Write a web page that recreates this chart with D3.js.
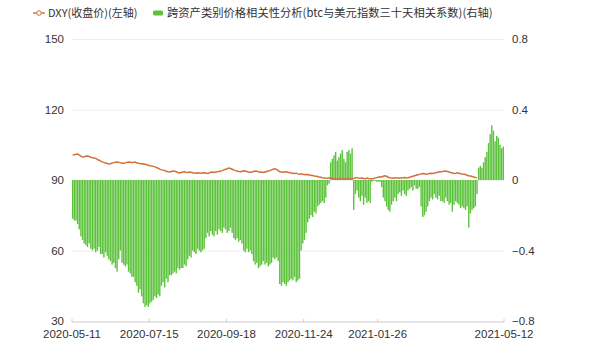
<!DOCTYPE html>
<html><head><meta charset="utf-8">
<script src="https://cdn.jsdelivr.net/npm/d3@7"></script>
<style>
html,body{margin:0;padding:0;background:#fff;}
svg{display:block;font-family:"Liberation Sans","Noto Sans CJK SC",sans-serif;}
</style></head>
<body><svg id="c" width="600" height="358"></svg>
<script>
const startDate = "2020-05-11";
const endDate = "2021-05-12";
const xTickLabels = ["2020-05-11","2020-07-15","2020-09-18","2020-11-24","2021-01-26","2021-05-12"];
const leftTicks = [30,60,90,120,150];
const rightTicks = [-0.8,-0.4,0,0.4,0.8];
const legendNames = ["DXY(收盘价)(左轴)","跨资产类别价格相关性分析(btc与美元指数三十天相关系数)(右轴)"];

const corr = [
-0.22,-0.23,-0.23,-0.25,-0.28,-0.32,-0.34,-0.36,-0.37,-0.38,
-0.36,-0.39,-0.40,-0.39,-0.41,-0.40,-0.38,-0.42,-0.42,-0.44,
-0.41,-0.43,-0.45,-0.46,-0.48,-0.47,-0.50,-0.52,-0.45,-0.40,
-0.47,-0.48,-0.49,-0.48,-0.52,-0.53,-0.55,-0.55,-0.58,-0.60,
-0.64,-0.62,-0.66,-0.70,-0.72,-0.71,-0.72,-0.70,-0.69,-0.68,
-0.66,-0.67,-0.65,-0.66,-0.60,-0.58,-0.61,-0.56,-0.58,-0.54,
-0.54,-0.53,-0.52,-0.53,-0.50,-0.51,-0.50,-0.50,-0.48,-0.49,
-0.45,-0.43,-0.44,-0.40,-0.41,-0.42,-0.39,-0.40,-0.41,-0.40,
-0.39,-0.33,-0.30,-0.32,-0.29,-0.31,-0.32,-0.29,-0.31,-0.28,
-0.29,-0.30,-0.27,-0.28,-0.30,-0.29,-0.27,-0.30,-0.33,-0.34,
-0.33,-0.35,-0.34,-0.36,-0.40,-0.41,-0.39,-0.41,-0.40,-0.42,
-0.46,-0.48,-0.47,-0.50,-0.49,-0.48,-0.46,-0.48,-0.47,-0.49,
-0.48,-0.47,-0.44,-0.45,-0.44,-0.46,-0.59,-0.60,-0.58,-0.59,
-0.60,-0.58,-0.57,-0.56,-0.57,-0.55,-0.58,-0.57,-0.56,-0.40,
-0.36,-0.34,-0.30,-0.24,-0.22,-0.20,-0.21,-0.18,-0.19,-0.15,
-0.14,-0.13,-0.12,-0.13,-0.10,-0.03,-0.02,0.10,0.12,0.14,
0.16,0.11,0.13,0.15,0.17,0.12,0.10,0.16,0.17,0.15,
0.18,-0.17,-0.08,-0.06,-0.10,-0.12,-0.09,-0.14,-0.10,-0.13,
-0.12,-0.13,-0.01,-0.005,-0.005,-0.01,-0.01,-0.01,-0.04,-0.10,
-0.12,-0.15,-0.17,-0.18,-0.14,-0.12,-0.10,-0.12,-0.08,-0.07,
-0.09,-0.06,-0.08,-0.09,-0.06,-0.05,-0.04,-0.06,-0.03,-0.05,
-0.05,-0.04,-0.15,-0.21,-0.20,-0.18,-0.15,-0.12,-0.10,-0.11,
-0.08,-0.10,-0.11,-0.09,-0.12,-0.12,-0.13,-0.10,-0.12,-0.14,
-0.13,-0.18,-0.14,-0.12,-0.13,-0.14,-0.16,-0.15,-0.16,-0.17,
-0.15,-0.27,-0.19,-0.17,-0.16,-0.15,-0.08,0.07,0.08,0.07,
0.10,0.13,0.16,0.21,0.26,0.31,0.28,0.22,0.25,0.24,0.20,0.18,0.19
];

const dxy = [
100.6,100.7,101.0,101.1,100.6,100.2,99.8,99.9,100.1,100.2,
100.0,99.7,99.5,99.4,99.2,98.8,98.4,98.0,97.7,97.5,
97.2,97.0,96.8,96.9,97.2,97.4,97.6,97.7,97.5,97.3,
97.2,97.0,97.3,97.5,97.7,97.6,97.4,97.5,97.6,97.3,
97.1,97.0,96.8,96.9,96.7,96.5,96.3,96.1,96.0,95.8,
95.6,95.3,95.0,94.6,94.3,94.2,94.0,93.7,93.5,93.4,
93.6,93.8,93.7,93.5,93.2,93.0,93.2,93.4,93.5,93.3,
93.2,93.4,93.3,93.1,93.0,92.9,93.1,93.0,92.9,93.0,
93.1,93.0,92.8,93.0,93.3,93.4,93.2,93.4,93.5,93.6,
93.8,94.0,94.3,94.6,94.8,95.1,94.9,94.6,94.3,94.0,
93.8,93.6,93.5,93.7,93.9,93.8,93.6,93.4,93.3,93.4,
93.6,93.8,93.7,93.5,93.3,93.4,93.2,93.4,93.6,93.8,
94.0,94.3,94.6,94.8,94.5,94.0,93.5,93.4,93.3,93.4,
93.5,93.3,93.1,93.0,92.9,92.8,92.9,92.6,92.5,92.6,
92.4,92.3,92.2,92.3,92.1,92.0,91.9,91.7,91.6,91.5,
91.3,91.2,91.0,90.9,90.8,90.7,90.9,90.8,90.6,90.5,
90.4,90.3,90.5,90.6,90.4,90.3,90.4,90.5,90.6,90.4,
90.5,90.7,90.9,91.0,90.8,90.7,90.9,90.6,90.5,90.8,
90.6,90.5,90.4,90.6,90.8,91.0,91.2,91.4,91.3,91.6,
91.8,91.6,91.2,91.0,90.9,90.8,90.9,91.0,90.8,90.9,
90.9,91.0,91.1,90.9,91.0,91.2,91.4,91.6,91.8,92.0,
92.2,92.4,92.6,92.8,92.7,92.5,92.6,92.8,92.9,92.8,
93.0,93.1,93.3,93.4,93.5,93.6,93.7,93.8,93.6,93.4,
93.2,93.0,92.8,92.9,93.1,92.9,92.7,92.6,92.4,92.3,
92.0,91.8,91.7,91.5,91.3,91.1,90.9
];

// weekday categories
const fmt = d3.timeFormat("%Y-%m-%d");
const parse = d3.timeParse("%Y-%m-%d");
const dates = d3.timeDay.range(parse(startDate), d3.timeDay.offset(parse(endDate),1))
  .filter(d => d.getDay() !== 0 && d.getDay() !== 6).map(fmt);

const svg = d3.select("#c");
const L = 72, R = 504, T = 39, B = 321;

const x = d3.scaleBand().domain(dates).range([L, R]).paddingInner(0.15).paddingOuter(0);
const yL = d3.scaleLinear().domain([30,150]).range([B, T]);
const yR = d3.scaleLinear().domain([-0.8,0.8]).range([B, T]);

// grid
svg.append("g").selectAll("line").data(leftTicks.slice(1)).join("line")
  .attr("x1", L).attr("x2", R).attr("y1", d=>yL(d)+0.5).attr("y2", d=>yL(d)+0.5)
  .attr("stroke", "#eeeeee").attr("stroke-width", 1);

// bars
const barData = dates.map((d,i)=>({d, v: corr[i]})).filter(o => o.v !== undefined);
svg.append("g").selectAll("rect").data(barData).join("rect")
  .attr("x", o => x(o.d))
  .attr("width", x.bandwidth())
  .attr("y", o => Math.min(yR(o.v), yR(0)))
  .attr("height", o => Math.abs(yR(o.v) - yR(0)))
  .attr("fill", "#5cc23c");

// line
const lineData = dates.map((d,i)=>({d, v: dxy[i]})).filter(o => o.v !== undefined);
svg.append("path").datum(lineData)
  .attr("fill","none").attr("stroke","#d0703a").attr("stroke-width",1.5)
  .attr("d", d3.line().x(o => x(o.d) + x.bandwidth()/2).y(o => yL(o.v)));

// x axis
const xa = svg.append("g").attr("transform", `translate(0,${B+1})`)
  .call(d3.axisBottom(x).tickValues(xTickLabels).tickSize(-3).tickPadding(8));
xa.select(".domain").attr("stroke","#cccccc").attr("d", `M${L},0H${R}`);
xa.selectAll(".tick line").attr("stroke","#cccccc");
xa.selectAll("text").attr("fill","#333").style("font-size","11.5px");
xa.selectAll(".tick").attr("transform", d => `translate(${x(d) + (d===xTickLabels[xTickLabels.length-1] ? x.bandwidth() : 0)},0)`);

// left axis
const la = svg.append("g").attr("transform", `translate(${L-8},0)`)
  .call(d3.axisLeft(yL).tickValues(leftTicks).tickSize(0).tickPadding(0));
la.select(".domain").remove();
la.selectAll("text").attr("fill","#333").style("font-size","11.5px");

// right axis
const ra = svg.append("g").attr("transform", `translate(${R+8},0)`)
  .call(d3.axisRight(yR).tickValues(rightTicks).tickSize(0).tickPadding(0)
    .tickFormat(d => d === 0 ? "0" : d3.format(".1f")(d).replace("-", "\u2212")));
ra.select(".domain").remove();
ra.selectAll("text").attr("fill","#333").style("font-size","11.5px");

// legend
const lg = svg.append("g").attr("transform","translate(0,13)");
lg.append("line").attr("x1",33).attr("x2",45).attr("y1",0).attr("y2",0).attr("stroke","#d0703a").attr("stroke-width",1.4);
lg.append("circle").attr("cx",39).attr("cy",0).attr("r",2.3).attr("fill","#fff").attr("stroke","#d0703a").attr("stroke-width",1);
lg.append("text").attr("x",48).attr("y",4).text(legendNames[0]).attr("fill","#333")
  .style("font-size","11px").style("font-family",'"Noto Sans CJK SC",sans-serif');
lg.append("rect").attr("x",153).attr("y",-2.5).attr("width",10).attr("height",5).attr("rx",1.5).attr("fill","#5cc23c");
lg.append("text").attr("x",167).attr("y",4).text(legendNames[1]).attr("fill","#333")
  .style("font-size","11.3px").style("font-family",'"Noto Sans CJK SC",sans-serif');
</script></body></html>
